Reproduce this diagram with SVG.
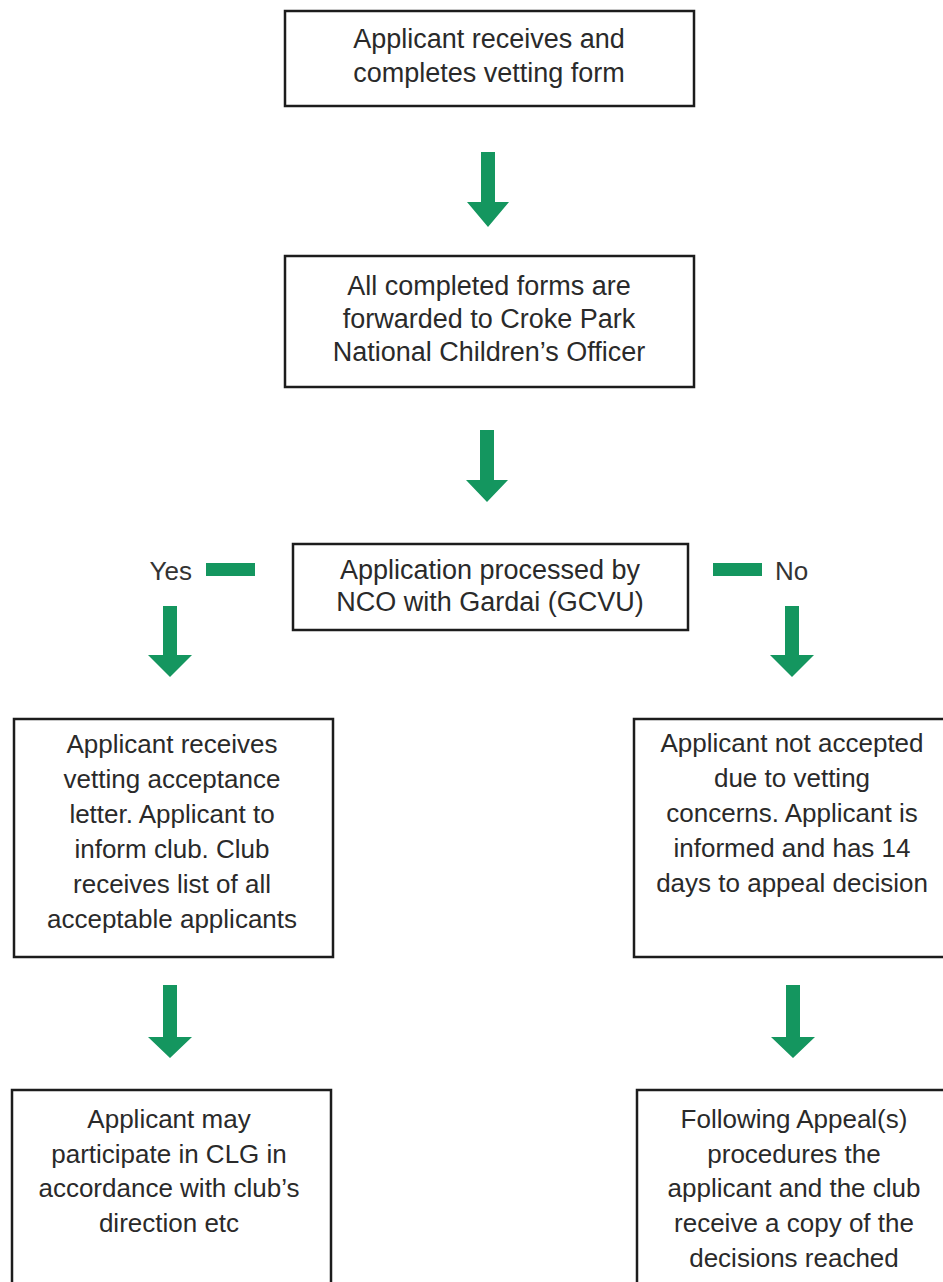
<svg xmlns="http://www.w3.org/2000/svg" width="943" height="1282" viewBox="0 0 943 1282">
<style>
.box{fill:#ffffff;stroke:#1c1c1c;stroke-width:2.5}
.t{font-family:"Liberation Sans",Arial,sans-serif;fill:#2a2a2a;text-anchor:middle}
.big{font-size:27px}
.sm{font-size:26px}
.arr{fill:#14965f}
.lbl{font-family:"Liberation Sans",Arial,sans-serif;font-size:26px;fill:#333}
</style>
<rect width="943" height="1282" fill="#ffffff"/>
<g id="connectors">
<path class="arr" d="M481,152 H495 V202 H509 L488,227 L467,202 H481 Z"/>
<path class="arr" d="M480,430 H494 V480 H508 L487,502 L466,480 H480 Z"/>
<rect class="arr" x="206" y="563" width="49" height="13"/>
<rect class="arr" x="713" y="563" width="49" height="13"/>
<path class="arr" d="M163,606 H177 V655 H192 L170,677 L148,655 H163 Z"/>
<path class="arr" d="M785,606 H799 V655 H814 L792,677 L770,655 H785 Z"/>
<path class="arr" d="M163,985 H177 V1037 H192 L170,1058 L148,1037 H163 Z"/>
<path class="arr" d="M786,985 H800 V1037 H815 L793,1058 L771,1037 H786 Z"/>
<text class="lbl" x="192" y="580" text-anchor="end">Yes</text>
<text class="lbl" x="775" y="580">No</text>
</g>
<g id="n1">
<rect class="box" x="285" y="11" width="409" height="95"/>
<text class="t big" x="489" y="48">Applicant receives and</text>
<text class="t big" x="489" y="82">completes vetting form</text>
</g>
<g id="n2">
<rect class="box" x="285" y="256" width="409" height="131"/>
<text class="t big" x="489" y="295">All completed forms are</text>
<text class="t big" x="489" y="328">forwarded to Croke Park</text>
<text class="t big" x="489" y="361">National Children’s Officer</text>
</g>
<g id="n3">
<rect class="box" x="293" y="544" width="395" height="86"/>
<text class="t big" x="490" y="579">Application processed by</text>
<text class="t big" x="490" y="611">NCO with Gardai (GCVU)</text>
</g>
<g id="n4">
<rect class="box" x="14" y="719" width="319" height="238"/>
<text class="t sm" x="172" y="753">Applicant receives</text>
<text class="t sm" x="172" y="788">vetting acceptance</text>
<text class="t sm" x="172" y="823">letter. Applicant to</text>
<text class="t sm" x="172" y="858">inform club. Club</text>
<text class="t sm" x="172" y="893">receives list of all</text>
<text class="t sm" x="172" y="928">acceptable applicants</text>
</g>
<g id="n5">
<rect class="box" x="634" y="719" width="320" height="238"/>
<text class="t sm" x="792" y="752">Applicant not accepted</text>
<text class="t sm" x="792" y="787">due to vetting</text>
<text class="t sm" x="792" y="822">concerns. Applicant is</text>
<text class="t sm" x="792" y="857">informed and has 14</text>
<text class="t sm" x="792" y="892">days to appeal decision</text>
</g>
<g id="n6">
<rect class="box" x="12" y="1090" width="319" height="220"/>
<text class="t sm" x="169" y="1128">Applicant may</text>
<text class="t sm" x="169" y="1163">participate in CLG in</text>
<text class="t sm" x="169" y="1197">accordance with club’s</text>
<text class="t sm" x="169" y="1232">direction etc</text>
</g>
<g id="n7">
<rect class="box" x="637" y="1090" width="320" height="220"/>
<text class="t sm" x="794" y="1128">Following Appeal(s)</text>
<text class="t sm" x="794" y="1163">procedures the</text>
<text class="t sm" x="794" y="1197">applicant and the club</text>
<text class="t sm" x="794" y="1232">receive a copy of the</text>
<text class="t sm" x="794" y="1267">decisions reached</text>
</g>
</svg>
